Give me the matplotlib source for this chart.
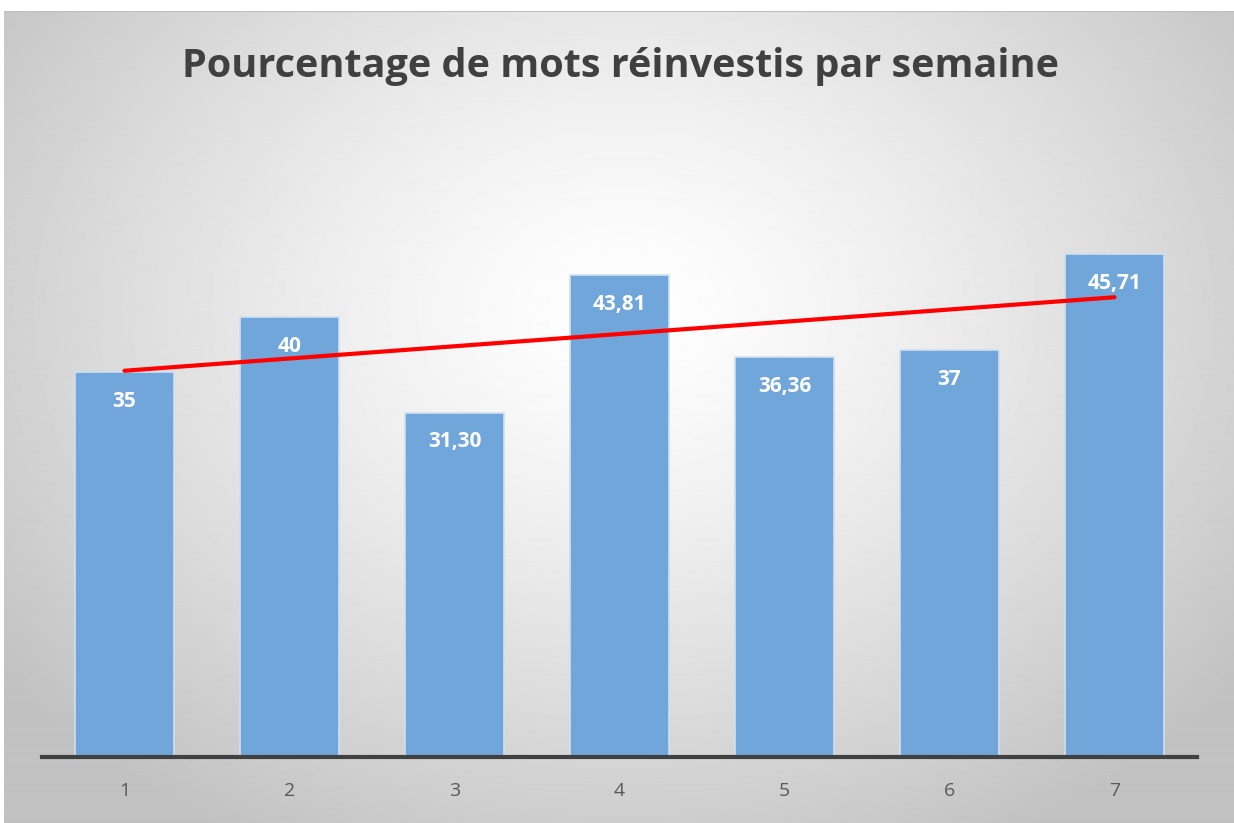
import numpy as np
import matplotlib
matplotlib.use("Agg")
from matplotlib import pyplot as plt

weeks = [1, 2, 3, 4, 5, 6, 7]
values = [35, 40, 31.30, 43.81, 36.36, 37, 45.71]
labels = ["35", "40", "31,30", "43,81", "36,36", "37", "45,71"]

BAR_COLOR = "#70a6d9"
TEXT_DARK = "#404040"

fig = plt.figure(figsize=(12.34, 8.23), dpi=100)
fig.patch.set_facecolor("white")

# radial gradient background of the chart area
bg = fig.add_axes([0.003, 0.0, 0.997, 0.987], zorder=0)
h, w = 811, 1231
yy, xx = np.mgrid[0:h, 0:w]
cx, cy = 620, 300
r = np.sqrt(((xx - cx) / 800.0) ** 2 + ((yy - cy) / 620.0) ** 2)
shade = np.clip(1.0 - 0.25 * r ** 1.3, 0.76, 1.0)
bg.imshow(shade, cmap="gray", vmin=0, vmax=1, aspect="auto", interpolation="bilinear")
bg.axhline(0, color="#c0c0c0", lw=1.5)
bg.axis("off")

ax = fig.add_axes([42 / 1234, 1 - 757 / 823, 1155 / 1234, 550 / 823], zorder=1)
ax.patch.set_alpha(0)

bars = ax.bar(weeks, values, width=0.6, color=BAR_COLOR, edgecolor="#cfe0f0", linewidth=1.2, zorder=2)
for b, lab in zip(bars, labels):
    ax.text(b.get_x() + b.get_width() / 2, b.get_height() - 1.7, lab, ha="center", va="top",
            color="white", fontsize=15, fontweight="bold", family="Open Sans", zorder=4)

# linear trend line
slope, intercept = np.polyfit(weeks, values, 1)
xs = np.array([weeks[0], weeks[-1]])
ax.plot(xs, slope * xs + intercept, color="red", lw=3, solid_capstyle="round", zorder=3)

ax.set_xlim(0.5, 7.5)
ax.set_ylim(0, 50)
ax.set_yticks([])
ax.set_xticks(weeks)
ax.set_xticklabels([str(w) for w in weeks], fontsize=14, color="#595959", family="Open Sans")
ax.tick_params(axis="x", length=0, pad=18)
for side in ["top", "left", "right"]:
    ax.spines[side].set_visible(False)
ax.spines["bottom"].set_color(TEXT_DARK)
ax.spines["bottom"].set_linewidth(3)

fig.text(0.503, 1 - 66 / 823, "Pourcentage de mots réinvestis par semaine", ha="center", va="center",
         fontsize=28.5, fontweight="bold", color=TEXT_DARK, family="Open Sans")

fig.savefig("out.png", dpi=100)
